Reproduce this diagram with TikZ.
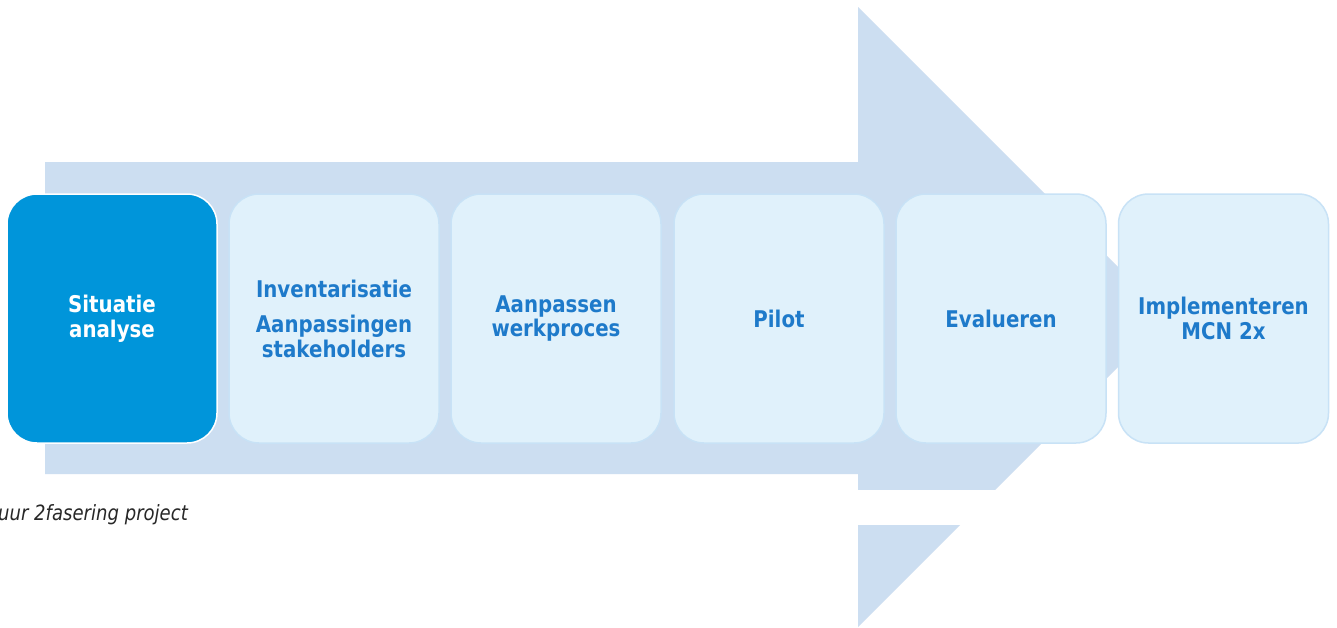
\documentclass[tikz,border=0pt]{standalone}
\usepackage{fontspec}
\newfontfamily\boxfont{DejaVu Sans}[FakeStretch=0.86]
\definecolor{arrowfill}{RGB}{204,222,241}
\definecolor{darkbox}{RGB}{0,149,218}
\definecolor{lightbox}{RGB}{224,241,251}
\definecolor{lightedge}{RGB}{200,226,246}
\definecolor{textblue}{RGB}{30,122,202}
\definecolor{captiongray}{RGB}{40,40,40}
\tikzset{
  stage/.style={rounded corners=30pt, minimum width=210pt, minimum height=249pt,
    align=center, inner sep=0pt, line width=1.5pt,
    font=\boxfont\bfseries\fontsize{23}{24.5}\selectfont},
  lightstage/.style={stage, fill=lightbox, draw=lightedge, text=textblue},
  darkstage/.style={stage, fill=darkbox, draw=white, text=white},
}
\begin{document}
\begin{tikzpicture}[x=1pt,y=-1pt]
\useasboundingbox (0,0) rectangle (1337,627);
\fill[white] (0,0) rectangle (1337,627);
% big arrow
\fill[arrowfill] (45,162) -- (858,162) -- (858,7) -- (1168,317) -- (858,627)
  -- (858,474) -- (45,474) -- cycle;
% white band crossing the arrow head
\fill[white] (0,490) rectangle (1337,525);
\node[anchor=base west, inner sep=0pt, text=captiongray,
  font=\boxfont\itshape\fontsize{21}{23}\selectfont] (cap) at (-2,520) {uur 2fasering project};
% stages
\node[darkstage] (s1) at (112,318.5) {Situatie\\analyse};
\node[lightstage] (s2) at (334,318.5) {Inventarisatie\\[11pt]Aanpassingen\\stakeholders};
\node[lightstage] (s3) at (556,318.5) {Aanpassen\\werkproces};
\node[lightstage] (s4) at (779,318.5) {Pilot};
\node[lightstage] (s5) at (1001,318.5) {Evalueren};
\node[lightstage] (s6) at (1223.5,318.5) {Implementeren\\MCN 2x};
\end{tikzpicture}
\end{document}
